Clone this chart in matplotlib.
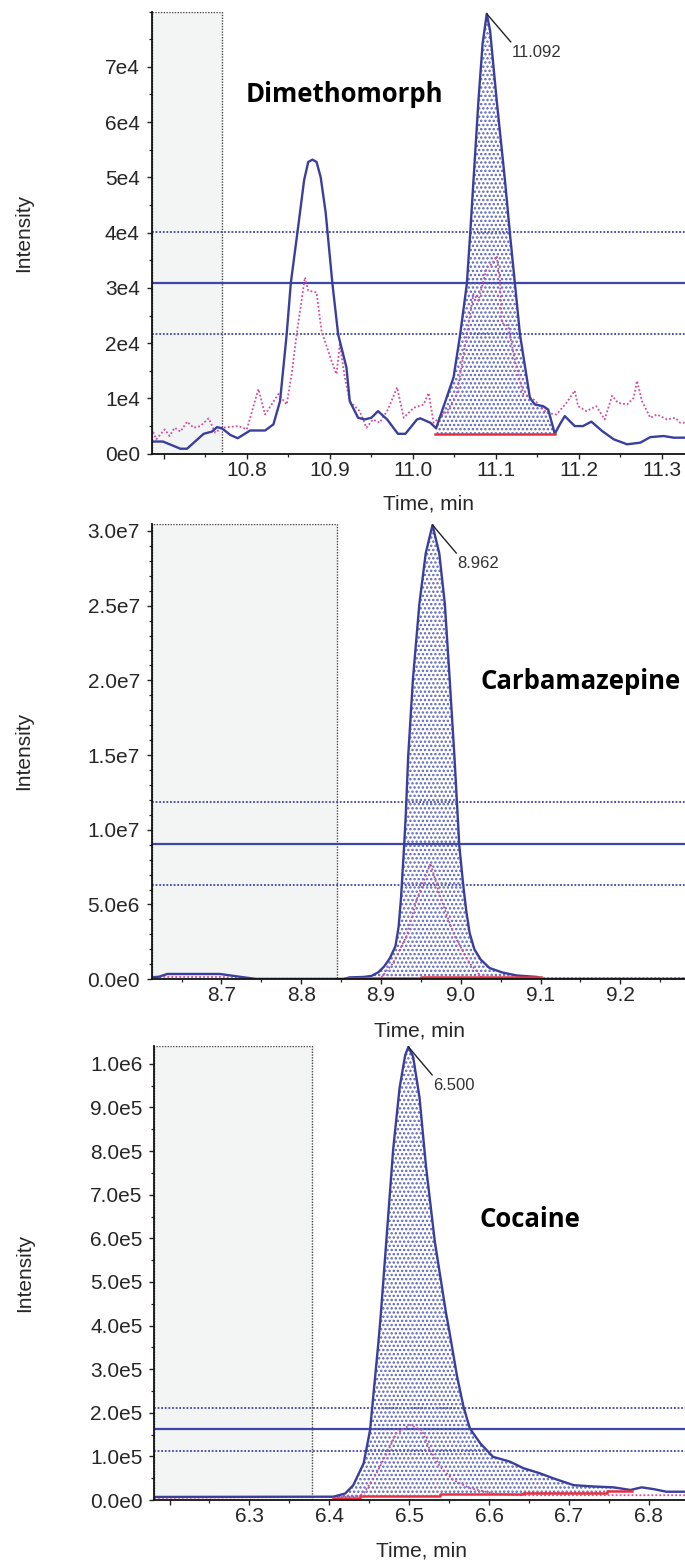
import numpy as np
import matplotlib
matplotlib.use("Agg")
import matplotlib.pyplot as plt
from matplotlib.ticker import MultipleLocator

# ------------------------------------------------------------------ data
# Panel 1 : Dimethomorph
dim_blue_t = [10.6853, 10.699, 10.720, 10.728, 10.748, 10.758, 10.764, 10.770, 10.780, 10.789,
              10.804, 10.822, 10.832, 10.840, 10.848, 10.853, 10.863, 10.869, 10.874, 10.879,
              10.884, 10.889, 10.895, 10.903, 10.910, 10.920, 10.924, 10.934, 10.942, 10.950,
              10.958, 10.969, 10.982, 10.991, 11.005, 11.009, 11.021, 11.028, 11.049, 11.057,
              11.065, 11.069, 11.073, 11.079, 11.084, 11.089, 11.093, 11.101, 11.111, 11.117,
              11.123, 11.129, 11.141, 11.147, 11.157, 11.163, 11.171, 11.177, 11.183, 11.195,
              11.205, 11.215, 11.228, 11.242, 11.258, 11.274, 11.286, 11.302, 11.314, 11.3278]
dim_blue_i = [2.2e3, 2.2e3, 0.9e3, 0.9e3, 3.6e3, 4.0e3, 4.8e3, 4.6e3, 3.4e3, 2.8e3,
              4.2e3, 4.2e3, 5.3e3, 9.5e3, 2.16e4, 3.09e4, 4.24e4, 4.95e4, 5.28e4, 5.32e4,
              5.28e4, 5.0e4, 4.36e4, 3.09e4, 2.16e4, 1.56e4, 9.5e3, 6.5e3, 6.2e3, 6.5e3,
              7.7e3, 6.2e3, 3.6e3, 3.6e3, 6.2e3, 6.4e3, 5.6e3, 4.6e3, 1.38e4, 2.16e4,
              3.07e4, 3.97e4, 4.94e4, 6.39e4, 7.42e4, 7.96e4, 7.66e4, 6.39e4, 4.94e4, 3.97e4,
              3.07e4, 2.16e4, 1.01e4, 8.9e3, 8.6e3, 8.0e3, 3.6e3, 5.3e3, 6.8e3, 5.0e3,
              5.0e3, 5.8e3, 4.1e3, 2.6e3, 1.7e3, 2.0e3, 3.0e3, 3.2e3, 2.9e3, 2.9e3]
dim_pink_t = [10.6853, 10.691, 10.701, 10.707, 10.713, 10.720, 10.728, 10.736, 10.744, 10.754,
              10.762, 10.770, 10.790, 10.800, 10.804, 10.814, 10.822, 10.838, 10.848, 10.854,
              10.860, 10.870, 10.874, 10.884, 10.890, 10.902, 10.908, 10.912, 10.918, 10.924,
              10.936, 10.944, 10.952, 10.960, 10.970, 10.981, 10.989, 11.001, 11.013, 11.019,
              11.025, 11.041, 11.053, 11.061, 11.073, 11.079, 11.083, 11.089, 11.095, 11.101,
              11.105, 11.107, 11.115, 11.123, 11.133, 11.145, 11.161, 11.173, 11.185, 11.195,
              11.199, 11.209, 11.221, 11.231, 11.240, 11.247, 11.258, 11.266, 11.270, 11.276,
              11.286, 11.294, 11.306, 11.316, 11.322, 11.3278]
dim_pink_i = [4.6e3, 2.6e3, 4.4e3, 3.2e3, 4.7e3, 4.0e3, 5.8e3, 4.7e3, 5.0e3, 6.4e3,
              3.8e3, 4.7e3, 5.0e3, 4.4e3, 6.5e3, 1.17e4, 7.1e3, 1.08e4, 8.9e3, 1.44e4,
              2.16e4, 3.19e4, 2.95e4, 2.92e4, 2.22e4, 1.68e4, 1.44e4, 1.98e4, 1.38e4, 9.5e3,
              7.7e3, 4.7e3, 6.2e3, 5.6e3, 8.0e3, 1.2e4, 6.5e3, 8.3e3, 8.9e3, 1.1e4,
              5.6e3, 7.7e3, 1.08e4, 1.8e4, 2.89e4, 2.77e4, 3.01e4, 3.37e4, 3.43e4, 3.58e4,
              3.13e4, 2.37e4, 2.31e4, 1.68e4, 1.08e4, 9.9e3, 7.4e3, 7.1e3, 9.2e3, 1.14e4,
              8.6e3, 7.7e3, 8.6e3, 6.2e3, 1.05e4, 9.2e3, 8.9e3, 1.01e4, 1.32e4, 9.5e3,
              6.5e3, 7.1e3, 6.2e3, 6.5e3, 5.6e3, 5.6e3]
dim_base_t = [11.027, 11.171]
dim_base_i = [3.6e3, 3.6e3]
dim_ratio_lines = [3.09e4, 2.17e4, 4.02e4]          # reference, lower, upper
dim_window = [10.6853, 10.770]
dim_xlim = [10.6853, 11.3278]
dim_ylim = [0, 8.0e4]
dim_xticks = [10.7, 10.8, 10.9, 11.0, 11.1, 11.2, 11.3]
dim_xticklabels = ["", "10.8", "10.9", "11.0", "11.1", "11.2", "11.3"]
dim_yticks = [0, 1e4, 2e4, 3e4, 4e4, 5e4, 6e4, 7e4]
dim_yticklabels = ["0e0", "1e4", "2e4", "3e4", "4e4", "5e4", "6e4", "7e4"]
dim_name = "Dimethomorph"
dim_peak_label = "11.092"

# Panel 2 : Carbamazepine
car_blue_t = [8.6124, 8.622, 8.632, 8.698, 8.722, 8.743, 8.855, 8.860, 8.878, 8.888,
              8.897, 8.904, 8.911, 8.918, 8.922, 8.925, 8.929, 8.931, 8.934, 8.940,
              8.948, 8.956, 8.9645, 8.973, 8.980, 8.986, 8.992, 8.996, 8.998, 9.003,
              9.007, 9.011, 9.017, 9.025, 9.036, 9.052, 9.070, 9.096, 9.101, 9.281]
car_blue_i = [1.2e5, 1.7e5, 3.5e5, 3.5e5, 1.7e5, 0.2e5, 0.2e5, 1.2e5, 1.5e5, 2.2e5,
              4.8e5, 8.6e5, 1.4e6, 2.2e6, 3.5e6, 5.4e6, 9.0e6, 1.10e7, 1.49e7, 2.01e7,
              2.51e7, 2.85e7, 3.04e7, 2.85e7, 2.51e7, 2.01e7, 1.49e7, 1.10e7, 9.0e6, 6.3e6,
              4.5e6, 3.1e6, 2.0e6, 1.31e6, 7.5e5, 4.5e5, 2.5e5, 1.5e5, 0.2e5, 0.2e5]
car_pink_t = [8.6124, 8.625, 8.700, 8.720, 8.745, 8.899, 8.915, 8.932, 8.945, 8.962,
              8.975, 8.992, 9.011, 9.027, 9.281]
car_pink_i = [0.5e5, 1.5e5, 1.5e5, 0.8e5, 0.3e5, 0.3e5, 1.08e6, 2.9e6, 5.38e6, 7.76e6,
              5.38e6, 2.9e6, 1.08e6, 0.7e5, 0.7e5]
car_base_t = [8.855, 8.950, 8.950, 9.100]
car_base_i = [0.8e5, 0.8e5, 1.3e5, 1.3e5]
car_ratio_lines = [9.07e6, 6.33e6, 1.186e7]
car_window = [8.6124, 8.845]
car_xlim = [8.6124, 9.281]
car_ylim = [0, 3.05e7]
car_xticks = [8.7, 8.8, 8.9, 9.0, 9.1, 9.2]
car_xticklabels = ["8.7", "8.8", "8.9", "9.0", "9.1", "9.2"]
car_yticks = [0, 5e6, 1e7, 1.5e7, 2e7, 2.5e7, 3e7]
car_yticklabels = ["0.0e0", "5.0e6", "1.0e7", "1.5e7", "2.0e7", "2.5e7", "3.0e7"]
car_name = "Carbamazepine"
car_peak_label = "8.962"

# Panel 3 : Cocaine
coc_blue_t = [6.1808, 6.405, 6.420, 6.430, 6.443, 6.451, 6.455, 6.461, 6.464, 6.472,
              6.480, 6.488, 6.495, 6.499, 6.505, 6.513, 6.521, 6.532, 6.546, 6.550,
              6.560, 6.568, 6.576, 6.589, 6.605, 6.626, 6.643, 6.664, 6.680, 6.706,
              6.731, 6.756, 6.777, 6.791, 6.806, 6.822, 6.8453]
coc_blue_i = [7e3, 7.6e3, 1.5e4, 3.4e4, 8.4e4, 1.6e5, 2.37e5, 3.52e5, 4.14e5, 6.09e5,
              8.05e5, 9.45e5, 1.02e6, 1.039e6, 1.016e6, 9.22e5, 7.66e5, 5.94e5, 4.3e5, 3.9e5,
              2.83e5, 2.14e5, 1.64e5, 1.30e5, 9.9e4, 8.8e4, 7.3e4, 6.1e4, 5.0e4, 3.4e4,
              3.1e4, 2.9e4, 2.3e4, 2.9e4, 2.5e4, 1.9e4, 1.9e4]
coc_pink_t = [6.1808, 6.434, 6.443, 6.459, 6.472, 6.484, 6.501, 6.516, 6.526, 6.539,
              6.555, 6.576, 6.605, 6.639, 6.8453]
coc_pink_i = [5e3, 7.6e3, 1.5e4, 6.1e4, 1.07e5, 1.53e5, 1.72e5, 1.6e5, 1.15e5, 7.6e4,
              4.6e4, 2.7e4, 1.5e4, 1.1e4, 1.1e4]
coc_base_t = [6.405, 6.4385, 6.4385, 6.5387, 6.5387, 6.6429, 6.6429, 6.7473, 6.7473, 6.7786]
coc_base_i = [3.9e3, 3.9e3, 9.9e3, 9.9e3, 1.38e4, 1.38e4, 1.5e4, 1.5e4, 2.06e4, 2.06e4]
coc_ratio_lines = [1.62e5, 1.13e5, 2.12e5]
coc_window = [6.1808, 6.378]
coc_xlim = [6.1808, 6.8453]
coc_ylim = [0, 1.041e6]
coc_xticks = [6.2, 6.3, 6.4, 6.5, 6.6, 6.7, 6.8]
coc_xticklabels = ["", "6.3", "6.4", "6.5", "6.6", "6.7", "6.8"]
coc_yticks = [0, 1e5, 2e5, 3e5, 4e5, 5e5, 6e5, 7e5, 8e5, 9e5, 1e6]
coc_yticklabels = ["0.0e0", "1.0e5", "2.0e5", "3.0e5", "4.0e5", "5.0e5",
                   "6.0e5", "7.0e5", "8.0e5", "9.0e5", "1.0e6"]
coc_name = "Cocaine"
coc_peak_label = "6.500"

x_label = "Time, min"
y_label = "Intensity"

# ------------------------------------------------------------------ style
W, H = 685, 1564
BLUE = "#3a3f9e"
PINK = "#d24c9f"
RED = "#e8303f"
HATCH_BLUE = "#5a62bd"
REF_BLUE = "#3e46a6"
GREY_BOX = "#f3f4f4"
TXT = "#262626"
TICK_FONT = "Liberation Sans"

plt.rcParams["hatch.linewidth"] = 1.15


def px_rect(left, top, bottom, right=W):
    return [left / W, 1 - bottom / H, (right - left) / W, (bottom - top) / H]


def draw_panel(ax, bt, bi, pt, pi, base_t, base_i, ratio, window, xlim, ylim,
               xticks, xticklabels, yticks, yticklabels, peak_label, yminor,
               xlabel_x, ylabel_x):
    bt = np.asarray(bt); bi = np.asarray(bi)
    ax.set_xlim(*xlim)
    ax.set_ylim(*ylim)
    # acquisition window box
    ax.axvspan(window[0], window[1], facecolor=GREY_BOX, edgecolor="#4a4a4a",
               linestyle=(0, (1, 1)), linewidth=1.0, zorder=0.5)
    # ion ratio lines
    ax.axhline(ratio[0], color=REF_BLUE, lw=1.6, zorder=1)
    for v in ratio[1:]:
        ax.axhline(v, color=REF_BLUE, lw=1.3, linestyle=(0, (1, 1)), zorder=1)
    # integrated area
    mask = (bt >= base_t[0] - 1e-9) & (bt <= base_t[-1] + 1e-9)
    y2 = np.interp(bt, base_t, base_i)
    ax.fill_between(bt, bi, y2, where=mask, facecolor="none", edgecolor=HATCH_BLUE,
                    hatch="....", linewidth=0, zorder=1.5)
    # traces
    ax.plot(pt, pi, color=PINK, lw=1.3, linestyle=(0, (1, 1.2)), zorder=2)
    ax.plot(bt, bi, color=BLUE, lw=1.7, zorder=3)
    ax.plot(base_t, base_i, color=RED, lw=1.8, zorder=3.5)
    # peak annotation
    k = int(np.argmax(bi))
    ax.annotate(peak_label, xy=(bt[k], bi[k]), xytext=(25, -31),
                textcoords="offset pixels", ha="left", va="top", fontsize=12,
                family=TICK_FONT, color="#333333",
                arrowprops=dict(arrowstyle="-", color="#222222", lw=1.0,
                                shrinkA=0, shrinkB=0, relpos=(0.03, 1.0)),
                zorder=5)
    # axes styling
    for s in ("top", "right"):
        ax.spines[s].set_visible(False)
    for s in ("left", "bottom"):
        ax.spines[s].set_linewidth(1.3)
        ax.spines[s].set_color("#111111")
        ax.spines[s].set_zorder(4)
    ax.set_xticks(xticks, labels=xticklabels)
    ax.set_yticks(yticks, labels=yticklabels)
    ax.xaxis.set_minor_locator(MultipleLocator(0.05))
    ax.yaxis.set_minor_locator(MultipleLocator(yminor))
    ax.tick_params(axis="both", which="major", direction="out", length=3.5, width=1.0,
                   color="#222222", labelsize=15, labelcolor=TXT)
    ax.tick_params(axis="both", which="minor", direction="out", length=2.2, width=0.9,
                   color="#222222")
    ax.tick_params(axis="x", which="major", pad=1.5)
    ax.tick_params(axis="y", which="major", pad=5)
    for lab in ax.get_xticklabels() + ax.get_yticklabels():
        lab.set_family(TICK_FONT)
    ax.set_xlabel(x_label, fontsize=15, family=TICK_FONT, color=TXT)
    ax.set_ylabel(y_label, fontsize=15, family=TICK_FONT, color=TXT)
    ax.xaxis.set_label_coords(xlabel_x, -0.092)
    ax.yaxis.set_label_coords(ylabel_x, 0.5)
    ax.set_facecolor("white")


fig = plt.figure(figsize=(W / 100, H / 100), dpi=100)
fig.patch.set_facecolor("white")

ax1 = fig.add_axes(px_rect(151.6, 11.6, 453.7))
ax2 = fig.add_axes(px_rect(151.6, 523.5, 979.2))
ax3 = fig.add_axes(px_rect(154.2, 1046.0, 1500.0))

draw_panel(ax1, dim_blue_t, dim_blue_i, dim_pink_t, dim_pink_i, dim_base_t, dim_base_i,
           dim_ratio_lines, dim_window, dim_xlim, dim_ylim, dim_xticks, dim_xticklabels,
           dim_yticks, dim_yticklabels, dim_peak_label, 5e3, 0.52, -0.222)
draw_panel(ax2, car_blue_t, car_blue_i, car_pink_t, car_pink_i, car_base_t, car_base_i,
           car_ratio_lines, car_window, car_xlim, car_ylim, car_xticks, car_xticklabels,
           car_yticks, car_yticklabels, car_peak_label, 1e6, 0.502, -0.222)
draw_panel(ax3, coc_blue_t, coc_blue_i, coc_pink_t, coc_pink_i, coc_base_t, coc_base_i,
           coc_ratio_lines, coc_window, coc_xlim, coc_ylim, coc_xticks, coc_xticklabels,
           coc_yticks, coc_yticklabels, coc_peak_label, 5e4, 0.503, -0.227)

# compound names
name_kw = dict(fontsize=18.5, fontweight="bold", family="Open Sans", color="black",
               ha="left", va="baseline")
fig.text(245.5 / W, 1 - 102.2 / H, dim_name, **name_kw)
fig.text(480.6 / W, 1 - 689.2 / H, car_name, **name_kw)
fig.text(479.7 / W, 1 - 1226.9 / H, coc_name, **name_kw)

fig.savefig("out.png", dpi=100, facecolor="white")
